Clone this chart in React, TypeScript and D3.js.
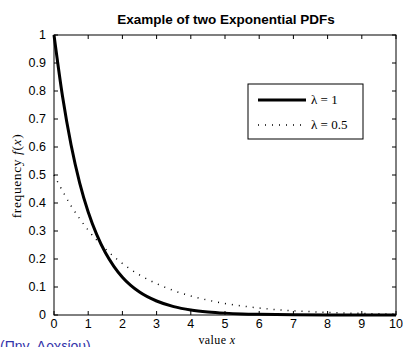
import React from "react";
import * as d3 from "d3";

const xs1 = [0, 0.25, 0.5, 0.75, 1, 1.25, 1.5, 1.75, 2, 2.5, 3, 3.5, 4, 4.5, 5, 5.5, 6, 7, 8, 9, 10];
const ys1 = [1.0, 0.78, 0.607, 0.472, 0.368, 0.287, 0.223, 0.174, 0.135, 0.082, 0.05, 0.03, 0.018, 0.011, 0.0067, 0.004, 0.0025, 0.0009, 0.0003, 0.0001, 0.00005];
const xs2 = [0, 0.5, 1, 1.5, 2, 2.5, 3, 3.5, 4, 4.5, 5, 5.5, 6, 6.5, 7, 7.5, 8, 8.5, 9, 9.5, 10];
const ys2 = [0.5, 0.39, 0.303, 0.236, 0.184, 0.143, 0.112, 0.087, 0.068, 0.053, 0.041, 0.032, 0.025, 0.019, 0.015, 0.012, 0.009, 0.007, 0.0056, 0.0043, 0.0034];
const xTicks = [0, 1, 2, 3, 4, 5, 6, 7, 8, 9, 10];
const yTicks = [0, 0.1, 0.2, 0.3, 0.4, 0.5, 0.6, 0.7, 0.8, 0.9, 1];
const title = "Example of two Exponential PDFs";
const legendLabels = ["λ = 1", "λ = 0.5"];

export default function App() {
  const W = 403, H = 347;
  const L = 54, R = 396, T = 35, B = 315;
  const x = d3.scaleLinear().domain([0, 10]).range([L, R]);
  const y = d3.scaleLinear().domain([0, 1]).range([B, T]);
  const line = d3.line<number>().curve(d3.curveMonotoneX);
  const p1 = line(xs1.map((v, i) => [x(v), y(ys1[i])] as [number, number]));
  const p2 = line(xs2.map((v, i) => [x(v), y(ys2[i])] as [number, number]));
  const sans = "Arial, 'Liberation Sans', Helvetica, sans-serif";
  const serif = "'Times New Roman', 'Liberation Serif', 'DejaVu Serif', serif";
  return (
    <svg width={W} height={H} style={{ position: "absolute", left: 0, top: 0, background: "#fff" }}>
      <rect x={0} y={0} width={W} height={H} fill="#fff" />
      <text x={226} y={24} textAnchor="middle" fontFamily={sans} fontWeight="bold" fontSize={13.5}>{title}</text>
      <path d={p2 ?? ""} fill="none" stroke="#000" strokeWidth={1.5} strokeDasharray="1 6" />
      <path d={p1 ?? ""} fill="none" stroke="#000" strokeWidth={3} />
      <rect x={L} y={T} width={R - L} height={B - T} fill="none" stroke="#000" strokeWidth={1} />
      {xTicks.map((t) => (
        <g key={"x" + t}>
          <line x1={x(t)} x2={x(t)} y1={B} y2={B - 4} stroke="#000" />
          <line x1={x(t)} x2={x(t)} y1={T} y2={T + 4} stroke="#000" />
          <text x={x(t)} y={328} textAnchor="middle" fontFamily={sans} fontSize={12.5}>{t}</text>
        </g>
      ))}
      {yTicks.map((t) => (
        <g key={"y" + t}>
          <line x1={L} x2={L + 4} y1={y(t)} y2={y(t)} stroke="#000" />
          <line x1={R} x2={R - 4} y1={y(t)} y2={y(t)} stroke="#000" />
          <text x={46} y={y(t) + 4} textAnchor="end" fontFamily={sans} fontSize={12.5}>{t}</text>
        </g>
      ))}
      <text x={217} y={344} textAnchor="middle" fontFamily={serif} fontSize={12} letterSpacing={0.4}>
        value <tspan fontStyle="italic">x</tspan>
      </text>
      <text transform="translate(21,176) rotate(-90)" textAnchor="middle" fontFamily={serif} fontSize={13.5} letterSpacing={0.6}>
        frequency <tspan fontStyle="italic">f</tspan>(<tspan fontStyle="italic">x</tspan>)
      </text>
      <g>
        <rect x={248} y={84} width={115} height={55} fill="#fff" stroke="#000" strokeWidth={1} />
        <line x1={258} x2={306} y1={100} y2={100} stroke="#000" strokeWidth={3} />
        <text x={311} y={104} fontFamily={serif} fontSize={13}>{legendLabels[0]}</text>
        <line x1={258} x2={304} y1={125} y2={125} stroke="#000" strokeWidth={1.5} strokeDasharray="1 6" />
        <text x={311} y={129} fontFamily={serif} fontSize={13}>{legendLabels[1]}</text>
      </g>
      <text x={0} y={351} fontFamily={sans} fontSize={14} fill="#3333aa">(Πηγ. Αρχείου)</text>
    </svg>
  );
}
